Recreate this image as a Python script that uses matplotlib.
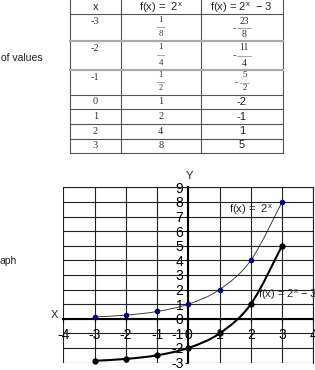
import matplotlib
matplotlib.use("Agg")
import matplotlib.pyplot as plt
from matplotlib.path import Path
from matplotlib.patches import PathPatch
import numpy as np

plt.rcParams['font.family'] = ['Liberation Sans', 'DejaVu Sans']
plt.rcParams['mathtext.fontset'] = 'custom'
plt.rcParams['mathtext.rm'] = 'Liberation Sans'
plt.rcParams['mathtext.it'] = 'Liberation Sans'
plt.rcParams['mathtext.default'] = 'regular'

# ---- data ----
x_vals = [-3, -2, -1, 0, 1, 2, 3]
f_labels = [(1, 8), (1, 4), (1, 2), "1", "2", "4", "8"]
g_labels = [(-23, 8), (-11, 4), (-5, 2), "-2", "-1", "1", "5"]
f_y = [0.125, 0.25, 0.5, 1, 2, 4, 8]
g_y = [-2.875, -2.75, -2.5, -2, -1, 1, 5]
header = ["x", "f(x) =  2$^{x}$", "f(x) = 2$^{x}$  \u2212 3"]
x_ticks = [-4, -3, -2, -1, 0, 1, 2, 3, 4]
y_ticks = [-3, -2, -1, 0, 1, 2, 3, 4, 5, 6, 7, 8, 9]

W, H = 315, 370
fig = plt.figure(figsize=(W / 100, H / 100), dpi=100)

# overlay in pixel coords
ov = fig.add_axes([0, 0, 1, 1])
ov.set_xlim(0, W)
ov.set_ylim(H, 0)
ov.axis('off')

col_edges = [70, 120.7, 201, 282.7]
row_edges = [0, 14, 40.7, 70, 95.3, 109.3, 124, 138.7, 152.7]
tc = '#555555'
for x in col_edges:
    ov.plot([x, x], [0, row_edges[-1]], color=tc, lw=0.8)
for i, y in enumerate(row_edges[1:]):
    if i in (1, 2):
        ov.plot([col_edges[0], col_edges[-1]], [y, y], color='#aaaaaa', lw=1.6)
    else:
        ov.plot([col_edges[0], col_edges[-1]], [y, y], color=tc, lw=0.8)

cx = [(col_edges[i] + col_edges[i + 1]) / 2 for i in range(3)]
for j, h in enumerate(header):
    ov.text(cx[j], 7.5, h, ha='center', va='center', fontsize=8, color='#222222')

serif = ['Liberation Serif', 'DejaVu Serif']
row_label_y = [22, 48.3, 77.7, 101.7, 116.7, 131, 145.3]
frac_pos = [(20.3, 27.3, 34.3), (46.7, 55, 63.3), (75, 81.5, 88)]
for i, xv in enumerate(x_vals):
    ov.text(cx[0], row_label_y[i], str(xv), ha='center', va='center', fontsize=7.5,
            family=serif, color='#333333')
    fl = f_labels[i]
    gl = g_labels[i]
    if isinstance(fl, tuple):
        ny, by, dy = frac_pos[i]
        fs = 6.5 if i < 2 else 6
        ov.text(cx[1], ny, str(fl[0]), ha='center', va='center', fontsize=fs, family=serif, color='#333333')
        ov.plot([cx[1] - 3.5, cx[1] + 3.5], [by, by], color='#999999', lw=0.6)
        ov.text(cx[1], dy, str(fl[1]), ha='center', va='center', fontsize=fs, family=serif, color='#333333')
        num = str(abs(gl[0]))
        half = 2.5 + 2.2 * len(num)
        gx = cx[2] + 2.5
        ov.text(gx, ny + (0.8 if i < 2 else 0), num, ha='center', va='center', fontsize=fs + 0.5, family=serif, color='#333333')
        ov.plot([gx - half, gx + half], [by + 1, by + 1], color='#999999', lw=0.6)
        ov.text(gx, dy + 0.5, str(gl[1]), ha='center', va='center', fontsize=fs + 0.5, family=serif, color='#333333')
        ov.text(gx - half - 3.5, by + 0.5, '-', ha='center', va='center', fontsize=fs + 1, color='#333333')
    else:
        ov.text(cx[1], row_label_y[i], fl, ha='center', va='center', fontsize=7.5,
                family=serif, color='#333333')
        ov.text(cx[2], row_label_y[i], gl, ha='center', va='center', fontsize=8,
                color='#222222')

ov.text(1, 58, "of values", ha='left', va='center', fontsize=7.5, color='#222222')
ov.text(0, 261, "aph", ha='left', va='center', fontsize=7.5, color='#222222')

# ---- graph ----
x0, x1 = 63.3, 313.3
ytop, ybot = 187.3, 362.6
ax = fig.add_axes([x0 / W, (H - ybot) / H, (x1 - x0) / W, (ybot - ytop) / H])
ax.set_xlim(-4, 4)
ax.set_ylim(-3, 9)
ax.set_facecolor('none')
ax.set_xticks(x_ticks)
ax.set_yticks(y_ticks)
ax.set_xticklabels([str(t) for t in x_ticks], fontweight='bold', fontsize=7, color='#111111')
ax.set_yticklabels([str(t) for t in y_ticks], fontweight='bold', fontsize=7, color='#111111')
ax.grid(True, color='#222222', lw=0.8)
ax.set_axisbelow(True)
ax.spines['left'].set_position(('data', 0))
ax.spines['bottom'].set_position(('data', 0))
ax.spines['left'].set_linewidth(1.5)
ax.spines['bottom'].set_linewidth(1.5)
ax.spines['top'].set_linewidth(0.8)
ax.spines['right'].set_linewidth(0.8)
ax.spines['top'].set_color('#222222')
ax.spines['right'].set_color('#222222')
ax.tick_params(axis='y', length=2, width=0.8, pad=1.5)
ax.tick_params(axis='x', length=2, width=0.8, pad=5)


def smooth_path(xs, ys):
    P = np.column_stack([xs, ys]).astype(float)
    Pe = np.vstack([P[0], P, P[-1]])
    verts = [P[0]]
    codes = [Path.MOVETO]
    for i in range(len(P) - 1):
        p0, p1, p2, p3 = Pe[i], Pe[i + 1], Pe[i + 2], Pe[i + 3]
        c1 = p1 + (p2 - p0) / 6
        c2 = p2 - (p3 - p1) / 6
        verts += [c1, c2, p2]
        codes += [Path.CURVE4] * 3
    return Path(verts, codes)


ax.add_patch(PathPatch(smooth_path(x_vals, f_y), fill=False, edgecolor='#222222', lw=0.6, clip_on=False))
ax.plot(x_vals, f_y, ls='none', marker='o', ms=3, color='#000080', clip_on=False, zorder=5)
ax.add_patch(PathPatch(smooth_path(x_vals, g_y), fill=False, edgecolor='black', lw=1.5, clip_on=False))
ax.plot(x_vals, g_y, ls='none', marker='o', ms=3.5, color='black', clip_on=False, zorder=5)

ax.text(0.05, 9.75, "Y", ha='center', va='center', fontsize=8, color='#222222', clip_on=False)
ax.text(-4.27, 0.25, "X", ha='center', va='center', fontsize=8, color='#222222', clip_on=False)
ax.text(1.3, 7.45, "f(x) =  2$^{x}$", ha='left', va='center', fontsize=8, color='#222222')
ax.text(2.24, 1.62, "f(x) = 2$^{x}$ \u2212 3", ha='left', va='center', fontsize=8,
        color='#222222', clip_on=False)

fig.savefig("out.png", dpi=100)
